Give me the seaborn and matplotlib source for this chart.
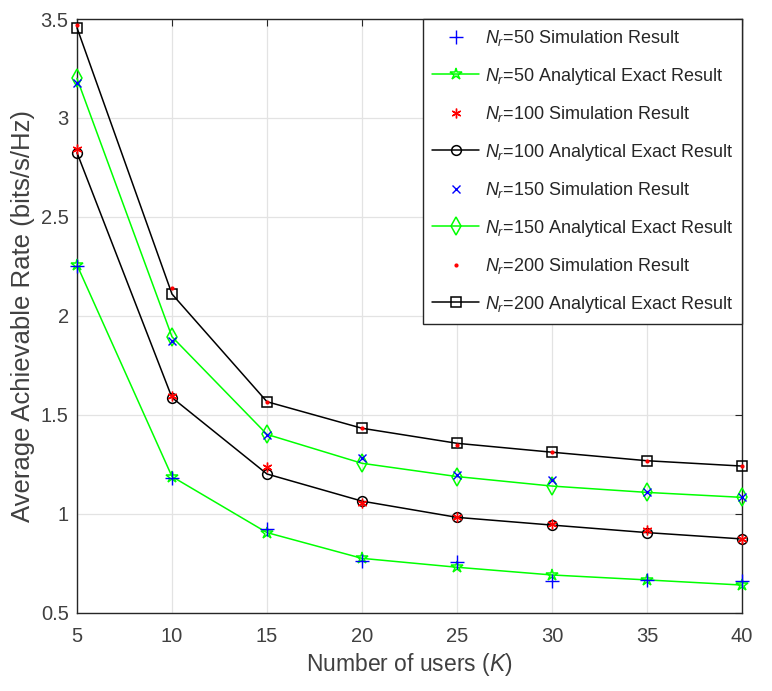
import numpy as np
import pandas as pd
import matplotlib
matplotlib.use('Agg')
import matplotlib.pyplot as plt
import seaborn as sns

# number of users
users_k = [5, 10, 15, 20, 25, 30, 35, 40]

# Nr = 50
sim_50 = [2.25, 1.18, 0.923, 0.763, 0.759, 0.663, 0.667, 0.663]
exact_50 = [2.258, 1.189, 0.906, 0.776, 0.731, 0.692, 0.667, 0.641]
# Nr = 100
sim_100 = [2.842, 1.596, 1.236, 1.054, 0.987, 0.947, 0.919, 0.876]
exact_100 = [2.825, 1.588, 1.202, 1.065, 0.983, 0.944, 0.906, 0.874]
# Nr = 150
sim_150 = [3.178, 1.875, 1.40, 1.281, 1.197, 1.172, 1.113, 1.087]
exact_150 = [3.20, 1.895, 1.402, 1.256, 1.189, 1.141, 1.109, 1.084]
# Nr = 200
sim_200 = [3.47, 2.14, 1.567, 1.433, 1.35, 1.312, 1.269, 1.242]
exact_200 = [3.456, 2.111, 1.567, 1.433, 1.357, 1.312, 1.269, 1.242]

sns.set_style('white')
plt.rcParams['font.family'] = ['Liberation Sans', 'DejaVu Sans']
plt.rcParams['mathtext.fontset'] = 'custom'
plt.rcParams['mathtext.rm'] = 'Liberation Sans'
plt.rcParams['mathtext.it'] = 'Liberation Sans:italic'

fig = plt.figure(figsize=(7.72, 6.91), dpi=100)
ax = fig.add_axes([0.0997, 0.1129, 0.8615, 0.8596])

GREEN = '#00ff00'

def sim(vals, marker, color, label, ms=8, mew=1.0):
    sns.lineplot(x=users_k, y=vals, ax=ax, linestyle='none', marker=marker,
                 markersize=ms, color=color, markeredgecolor=color,
                 markeredgewidth=mew, errorbar=None, label=label,
                 clip_on=False, zorder=4)

def exact(vals, marker, color, label, ms=7):
    sns.lineplot(x=users_k, y=vals, ax=ax, marker=marker, markersize=ms,
                 color=color, markerfacecolor='none', markeredgecolor=color,
                 markeredgewidth=1.1, linewidth=1.1, errorbar=None, label=label,
                 clip_on=False, zorder=3)

sim(sim_50, '+', 'blue', '$N_r$=50 Simulation Result', ms=10)
exact(exact_50, '*', GREEN, '$N_r$=50 Analytical Exact Result', ms=9)
sim(sim_100, (6, 2, 0), 'red', '$N_r$=100 Simulation Result', ms=7)
exact(exact_100, 'o', 'black', '$N_r$=100 Analytical Exact Result', ms=7)
sim(sim_150, 'x', 'blue', '$N_r$=150 Simulation Result', ms=6)
exact(exact_150, 'd', GREEN, '$N_r$=150 Analytical Exact Result', ms=9)
sim(sim_200, '.', 'red', '$N_r$=200 Simulation Result', ms=4)
exact(exact_200, 's', 'black', '$N_r$=200 Analytical Exact Result', ms=6.5)

ax.set_xlim(5, 40)
ax.set_ylim(0.5, 3.5)
ax.set_xticks(users_k)
ax.set_yticks([0.5, 1, 1.5, 2, 2.5, 3, 3.5])
ax.set_yticklabels(['0.5', '1', '1.5', '2', '2.5', '3', '3.5'])
ax.grid(True, color='#e3e3e3', linewidth=0.9)
ax.set_axisbelow(True)
for sp in ax.spines.values():
    sp.set_color('#262626')
    sp.set_linewidth(1.0)
ax.tick_params(direction='in', length=5, width=0.8, colors='#262626',
               top=True, right=True, labelsize=14.5, labelcolor='#404040')
ax.tick_params(axis='x', pad=10)
ax.tick_params(axis='y', pad=6)
ax.set_xlabel('Number of users ($K$)', fontsize=16.5, color='#404040', labelpad=4)
ax.set_ylabel('Average Achievable Rate (bits/s/Hz)', fontsize=18.5, color='#404040', labelpad=4)

leg = ax.legend(loc='upper right', fontsize=13, frameon=True, fancybox=False,
                framealpha=1, edgecolor='#262626', borderaxespad=0,
                labelspacing=0.97, handlelength=2.6, handletextpad=0.3,
                borderpad=0.5)
leg.get_frame().set_linewidth(1.0)
leg.set_zorder(10)

fig.savefig('out.png', dpi=100)
